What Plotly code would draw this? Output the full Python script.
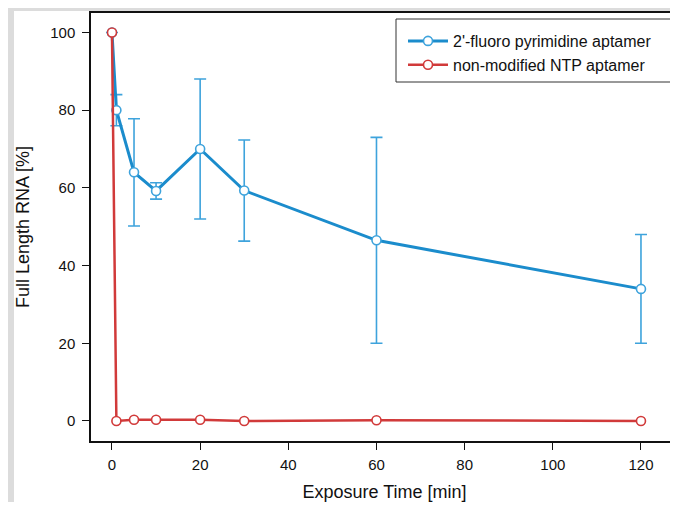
import plotly.graph_objects as go

# exposure time in minutes
time_min = [0, 1, 5, 10, 20, 30, 60, 120]

# 2'-fluoro pyrimidine aptamer, full length RNA [%] and its error
fluoro_y = [100, 80, 64, 59.2, 70, 59.3, 46.5, 34]
fluoro_err = [0, 4, 13.8, 2.1, 18, 13, 26.5, 14]

# non-modified NTP aptamer
nonmod_y = [100, 0, 0.3, 0.3, 0.3, 0, 0.2, 0]

blue = "#1b8ccc"
blue_err = "#3ea3dc"
red = "#d13a3a"
font = "Liberation Sans, Arial, sans-serif"

fig = go.Figure()

fig.add_trace(go.Scatter(
    x=time_min, y=fluoro_y,
    name="2'-fluoro pyrimidine aptamer",
    mode="lines+markers",
    line=dict(color=blue, width=3),
    marker=dict(symbol="circle", size=9, color="white", line=dict(color=blue_err, width=1.6)),
    error_y=dict(type="data", array=fluoro_err, visible=True, color=blue_err, thickness=1.6, width=6),
))

fig.add_trace(go.Scatter(
    x=time_min, y=nonmod_y,
    name="non-modified NTP aptamer",
    mode="lines+markers",
    line=dict(color=red, width=2.5),
    marker=dict(symbol="circle", size=9, color="white", line=dict(color=red, width=1.6)),
))

# plot area in page pixels: left 91, right 678, top 13, bottom 441
# (the page body adds an 8px margin, so the figure starts at 8,8)
def px_x(p):
    return (p - 91) / 587.0

def px_y(p):
    return (441 - p) / 428.0

shapes = [
    # grey strips of the original screenshot
    dict(type="rect", xref="paper", yref="paper", x0=px_x(0), x1=px_x(14), y0=px_y(520), y1=px_y(0),
         fillcolor="#dcdcdc", line=dict(width=0), layer="below"),
    dict(type="rect", xref="paper", yref="paper", x0=px_x(0), x1=px_x(700), y0=px_y(11), y1=px_y(0),
         fillcolor="#dcdcdc", line=dict(width=0), layer="below"),
    # legend frame running off the right edge
    dict(type="rect", xref="paper", yref="paper", x0=px_x(396), x1=px_x(720), y0=px_y(82), y1=px_y(19),
         fillcolor="white", line=dict(color="#333333", width=1), layer="below"),
]

fig.update_layout(
    width=670, height=494,
    margin=dict(l=83, r=0, t=5, b=61),
    paper_bgcolor="white",
    plot_bgcolor="white",
    font=dict(family=font, color="#111111", size=15),
    showlegend=True,
    legend=dict(
        x=px_x(403), y=px_y(24), xanchor="left", yanchor="top",
        bgcolor="rgba(0,0,0,0)", borderwidth=0,
        font=dict(size=16, family=font, color="#111111"),
        itemwidth=40, tracegroupgap=0,
    ),
    shapes=shapes,
)

fig.update_xaxes(
    range=[-4.76, 128.4], automargin=False,
    tickvals=[0, 20, 40, 60, 80, 100, 120],
    ticks="outside", ticklen=7, tickcolor="#111111", tickwidth=1,
    showline=True, linecolor="#111111", linewidth=1.5, mirror=True,
    showgrid=False, zeroline=False,
    tickfont=dict(size=15), ticklabelstandoff=2,
    title=dict(text="Exposure Time [min]", font=dict(size=18), standoff=24),
)

fig.update_yaxes(
    range=[-5.15, 105.0], automargin=False,
    tickvals=[0, 20, 40, 60, 80, 100],
    ticks="outside", ticklen=7, tickcolor="#111111", tickwidth=1,
    showline=True, linecolor="#111111", linewidth=1.5, mirror=False,
    showgrid=False, zeroline=False,
    tickfont=dict(size=15), ticklabelstandoff=4,
    title=dict(text="Full Length RNA [%]", font=dict(size=18), standoff=16),
)

fig.write_html("out.html")
